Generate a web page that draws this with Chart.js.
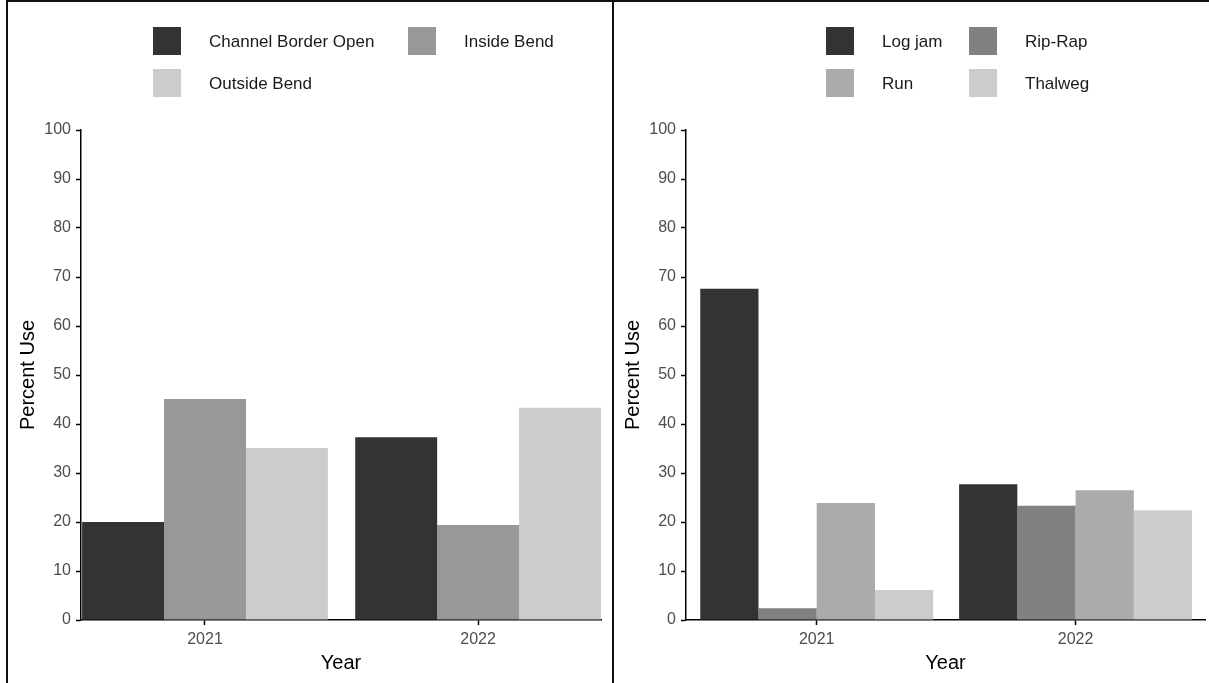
<!DOCTYPE html>
<html>
<head>
<meta charset="utf-8">
<title>Percent Use by Year</title>
<script src="https://cdn.jsdelivr.net/npm/chart.js@4/dist/chart.umd.min.js"></script>
<style>
  html, body { margin: 0; padding: 0; background: #ffffff; }
  body { width: 1209px; height: 683px; position: relative; overflow: hidden; }
  .frame { position: absolute; left: 6px; top: 0; width: 1210px; height: 690px;
           border-top: 2px solid #111; border-left: 2px solid #111; box-sizing: border-box; }
  .divider { position: absolute; left: 612px; top: 0; width: 2px; height: 683px; background: #111; }
  canvas { position: absolute; top: 2px; }
  #left { left: 8px; }
  #right { left: 614px; }
</style>
</head>
<body>
<div class="frame"></div>
<div class="divider"></div>
<canvas id="left" width="604" height="681"></canvas>
<canvas id="right" width="595" height="681"></canvas>
<script>
// Years on the x axis
const years = ['2021', '2022'];
const yTicks = [0, 10, 20, 30, 40, 50, 60, 70, 80, 90, 100];

// Bend position (left plot), percent use per year
const bendLabels = ['Channel Border Open', 'Inside Bend', 'Outside Bend'];
const channelBorderOpen = [20.0, 37.3];
const insideBend = [45.1, 19.4];
const outsideBend = [35.1, 43.3];
const bendColors = ['#333333', '#989898', '#cccccc'];

// Habitat type (right plot), percent use per year
const habitatLabels = ['Log jam', 'Rip-Rap', 'Run', 'Thalweg'];
const logJam = [67.6, 27.7];
const ripRap = [2.4, 23.3];
const run = [23.9, 26.5];
const thalweg = [6.1, 22.4];
const habitatColors = ['#333333', '#818181', '#ababab', '#cccccc'];

Chart.defaults.font.family = "'Liberation Sans', Arial, Helvetica, sans-serif";
Chart.defaults.animation = false;

const tickFont = { size: 16 };
const tickColor = '#4d4d4d';
const titleFont = { size: 20 };

// Year i+1 on a linear axis, so bars sit on whole numbers
function toPoints(values) {
  return values.map((v, i) => ({ x: i + 1, y: v }));
}

function makeDatasets(labels, seriesList, colors) {
  return labels.map((label, i) => ({
    label: label,
    data: toPoints(seriesList[i]),
    backgroundColor: colors[i],
    borderWidth: 0,
    categoryPercentage: 0.9,
    barPercentage: 1.0
  }));
}

// Grid legend above the panel (two columns, row-major)
const gridLegend = {
  id: 'gridLegend',
  afterDraw(chart, args, opts) {
    const ctx = chart.ctx;
    ctx.save();
    ctx.font = '17px ' + Chart.defaults.font.family;
    ctx.textBaseline = 'middle';
    ctx.textAlign = 'left';
    chart.data.datasets.forEach((ds, i) => {
      const col = i % 2;
      const row = Math.floor(i / 2);
      const x = opts.colX[col];
      const y = opts.rowY[row];
      ctx.fillStyle = ds.backgroundColor;
      ctx.fillRect(x, y, opts.box, opts.box);
      ctx.fillStyle = '#1a1a1a';
      ctx.fillText(ds.label, x + opts.textOffset, y + opts.box / 2 + 1);
    });
    ctx.restore();
  }
};

function makeChart(id, datasets, xRange, yAxisWidth, padRight, yTitlePad, legendCols) {
  return new Chart(document.getElementById(id), {
    type: 'bar',
    data: { datasets: datasets },
    plugins: [gridLegend],
    options: {
      responsive: false,
      animation: false,
      layout: { padding: { top: 128, right: padRight, bottom: 0, left: 0 } },
      plugins: {
        legend: { display: false },
        tooltip: { enabled: false },
        gridLegend: { colX: legendCols, rowY: [25, 67], box: 28, textOffset: 56 }
      },
      scales: {
        x: {
          type: 'linear',
          z: 1,
          offset: false,
          min: xRange[0],
          max: xRange[1],
          afterBuildTicks: (scale) => {
            scale.ticks = years.map((y, i) => ({ value: i + 1 }));
          },
          afterFit: (scale) => { scale.height = 63; },
          ticks: {
            font: tickFont,
            color: tickColor,
            padding: 5,
            maxRotation: 0,
            callback: (v) => years[Math.round(v) - 1]
          },
          grid: { offset: false, drawOnChartArea: false, drawTicks: true, tickLength: 5, color: '#000000', tickWidth: 1.5 },
          border: { display: true, color: '#000000', width: 1.5 },
          title: { display: true, text: 'Year', font: titleFont, color: '#000000', padding: { top: 0, bottom: 8 } }
        },
        y: {
          z: 1,
          min: 0,
          max: 100,
          afterBuildTicks: (scale) => {
            scale.ticks = yTicks.map(v => ({ value: v }));
          },
          afterFit: (scale) => { scale.width = yAxisWidth; },
          ticks: { font: tickFont, color: tickColor, padding: 5 },
          grid: { drawOnChartArea: false, drawTicks: true, tickLength: 5, color: '#000000', tickWidth: 1.5 },
          border: { display: true, color: '#000000', width: 1.5 },
          title: { display: true, text: 'Percent Use', font: titleFont, color: '#000000', padding: { top: yTitlePad, bottom: 0 } }
        }
      }
    }
  });
}

makeChart('left',
  makeDatasets(bendLabels, [channelBorderOpen, insideBend, outsideBend], bendColors),
  [0.546, 2.45], 73, 11, 8.5, [145, 400]);

makeChart('right',
  makeDatasets(habitatLabels, [logJam, ripRap, run, thalweg], habitatColors),
  [0.495, 2.5], 72, 4, 7, [212, 355]);
</script>
</body>
</html>
